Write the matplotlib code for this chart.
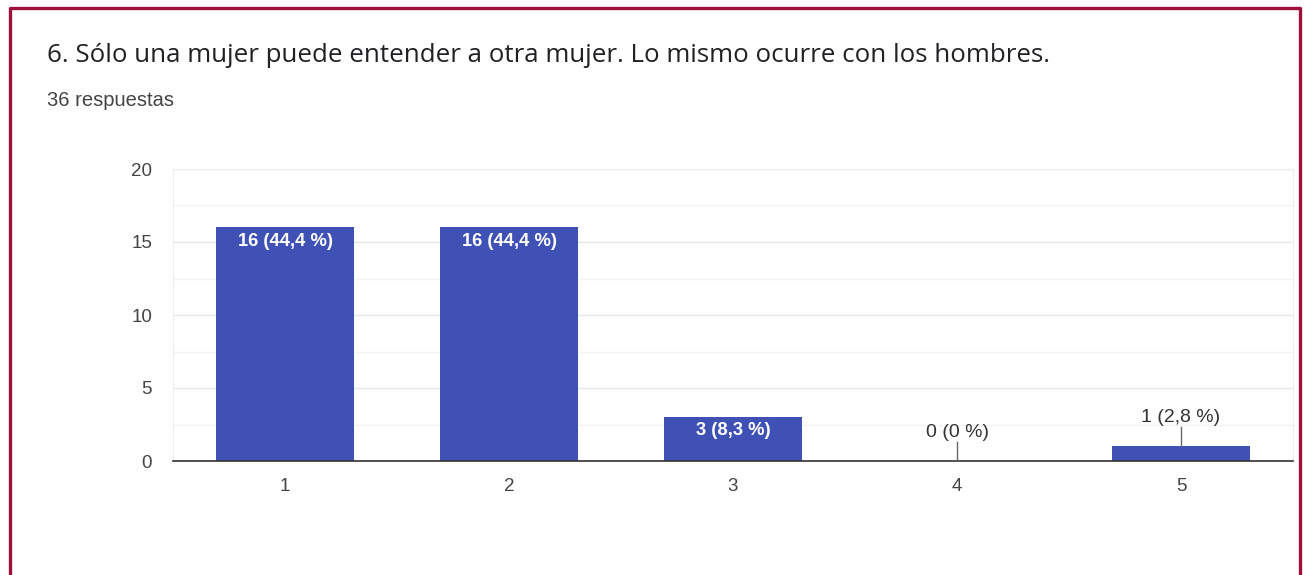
import matplotlib.pyplot as plt
from matplotlib.lines import Line2D

categories = ["1", "2", "3", "4", "5"]
counts = [16, 16, 3, 0, 1]
labels = ["16 (44,4 %)", "16 (44,4 %)", "3 (8,3 %)", "0 (0 %)", "1 (2,8 %)"]
title = "6. Sólo una mujer puede entender a otra mujer. Lo mismo ocurre con los hombres."
subtitle = "36 respuestas"

plt.rcParams['font.family'] = ['Liberation Sans', 'DejaVu Sans']

fig = plt.figure(figsize=(13.11, 5.75), dpi=100)
W, H = 1311, 575

# frame around the card (bottom edge is cut off)
border = "#A0103A"
fig.add_artist(Line2D([9.5 / W, 9.5 / W, 1299.5 / W, 1299.5 / W],
                      [0, 1 - 7.5 / H, 1 - 7.5 / H, 0],
                      transform=fig.transFigure, color=border, lw=2.4))

fig.text(47 / W, 1 - 55 / H, title, fontsize=18.6, color="#202124",
         family=['Open Sans', 'DejaVu Sans'], va="center")
fig.text(47 / W, 1 - 100 / H, subtitle, fontsize=14.5, color="#444444", va="center")

ax = fig.add_axes([173 / W, 1 - 461 / H, (1293 - 173) / W, (461 - 169) / H])
x = list(range(1, len(categories) + 1))
bars = ax.bar(x, counts, width=0.615, color="#3F51B5", zorder=3)

ax.set_xlim(0.5, 5.5)
ax.set_ylim(0, 20)
ax.set_yticks([0, 5, 10, 15, 20])
ax.set_yticks([2.5, 7.5, 12.5, 17.5], minor=True)
ax.set_xticks(x)
ax.set_xticklabels(categories)
ax.grid(axis="y", which="major", color="#e6e6e6", lw=1, zorder=0)
ax.grid(axis="y", which="minor", color="#f2f2f2", lw=1, zorder=0)
for s in ["top", "right", "left"]:
    ax.spines[s].set_color("#eeeeee")
ax.spines["bottom"].set_color("#333333")
ax.spines["bottom"].set_linewidth(1.2)
ax.spines["bottom"].set_zorder(4)
ax.tick_params(axis="both", which="both", length=0, labelsize=13.5, labelcolor="#444444")
ax.tick_params(axis="y", pad=15)
ax.tick_params(axis="x", pad=12)

for xi, c, lab in zip(x, counts, labels):
    if c >= 2:
        ax.text(xi, c - 0.35, lab, ha="center", va="top", color="white",
                fontsize=13.2, fontweight="bold", zorder=5)
    else:
        ax.plot([xi, xi], [c, c + 1.3], color="#666666", lw=1, zorder=5)
        ax.text(xi, c + 1.4, lab, ha="center", va="bottom", color="#333333",
                fontsize=14, zorder=5)

plt.savefig("out.png", dpi=100)
